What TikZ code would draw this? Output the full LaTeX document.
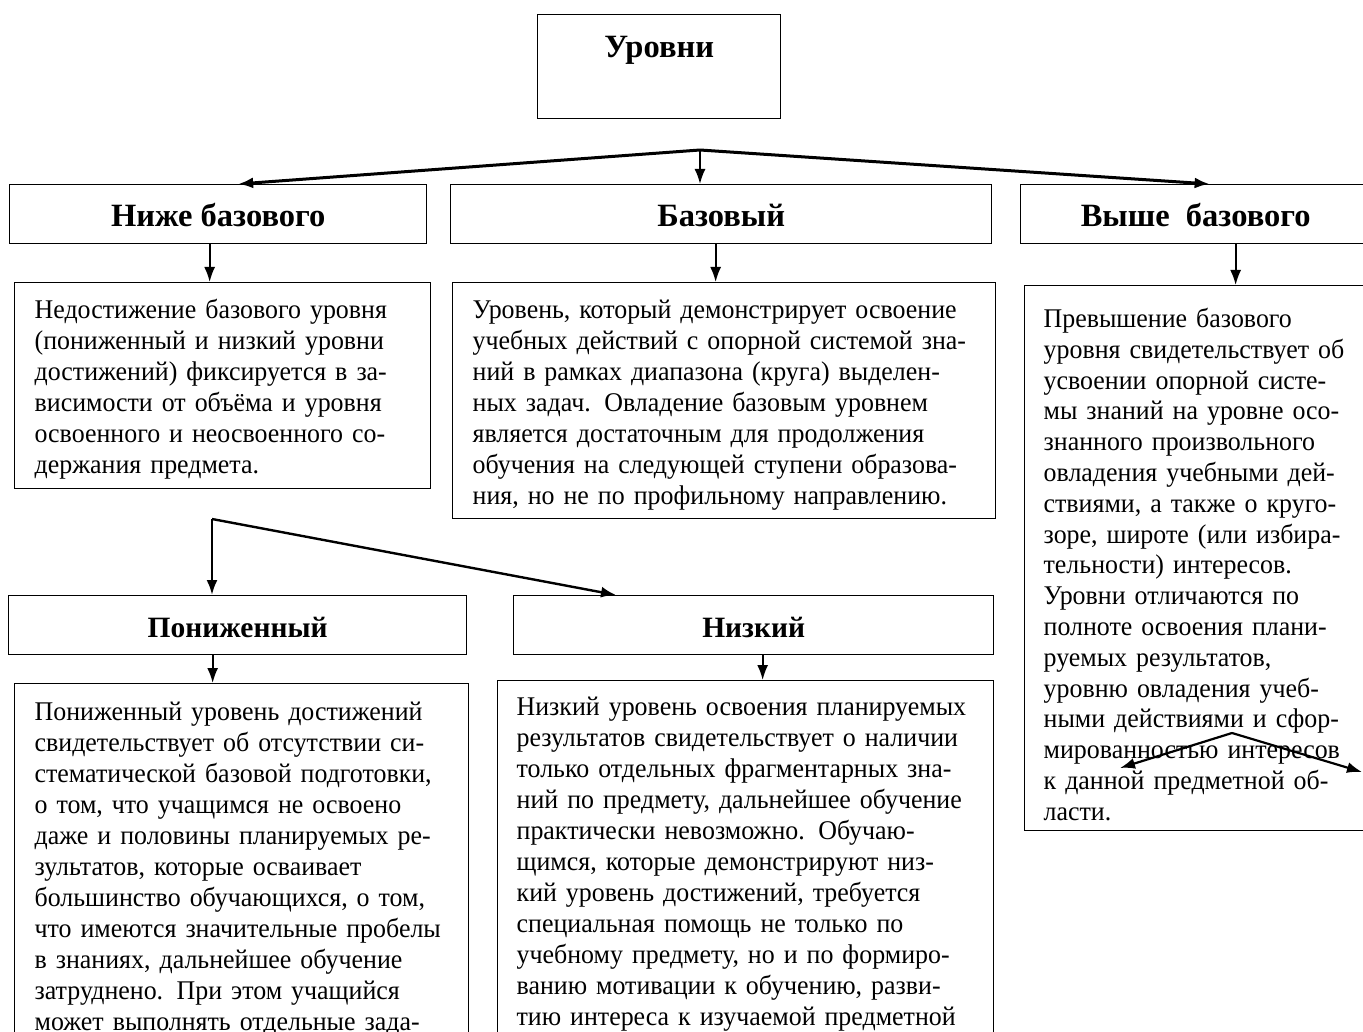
\documentclass[tikz,border=0pt]{standalone}
\usepackage{fontspec}
\setmainfont{Liberation Serif}
\newfontfamily\bodyfont{Liberation Serif}[FakeStretch=0.96]
\usetikzlibrary{arrows.meta}
\tikzset{
  headbox/.style={draw, line width=1.3pt, anchor=north west, inner sep=0pt,
    text height=42pt, text depth=17pt, font=\fontsize{32.5}{38}\selectfont\bfseries},
  lowhead/.style={headbox, font=\fontsize{29.5}{35}\selectfont\bfseries},
  textbox/.style={draw, line width=1.3pt, anchor=north west, align=left,
    inner xsep=20pt, inner ysep=12pt, font=\bodyfont\fontsize{27}{31}\selectfont},
  arr/.style={-{Latex[length=15pt,width=11pt]}, line width=1.8pt},
  bigarr/.style={arr, line width=3pt}
}
\begin{document}
\begin{tikzpicture}[x=1pt, y=-1pt]
  \useasboundingbox (0,0) rectangle (1363,1032);
  \clip (0,0) rectangle (1363,1032);
  % top
  \node[headbox, minimum width=243pt, text height=43pt, text depth=61pt] (levels) at (537,14) {Уровни};
  \coordinate (hub) at (700,150);
  \node[headbox, minimum width=417pt] (nizhe) at (9,184) {Ниже базового};
  \node[headbox, minimum width=541pt] (bazovy) at (450,184) {Базовый};
  \node[headbox, minimum width=350pt] (vyshe) at (1020,184) {Выше\ \ базового};
  \draw[bigarr] (hub) -- ([xshift=20pt]nizhe.north);
  \draw[arr] (hub) -- (hub |- bazovy.north);
  \draw[bigarr] (hub) -- ([xshift=14pt]vyshe.north);
  % descriptions
  \node[textbox, inner ysep=9pt, text width=376pt, minimum height=206pt] (nizhetext) at (14,282)
    {\rule{0pt}{26pt}Недостижение базового уровня\\
     (пониженный и низкий уровни\\
     достижений) фиксируется в за-\\
     висимости от объёма и уровня\\
     освоенного и неосвоенного со-\\
     держания предмета.};
  \node[textbox, inner ysep=8pt, text width=503pt, minimum height=236pt] (baztext) at (452,282)
    {\rule{0pt}{27pt}Уровень, который демонстрирует освоение\\
     учебных действий с опорной системой зна-\\
     ний в рамках диапазона (круга) выделен-\\
     ных задач. Овладение базовым уровнем\\
     является достаточным для продолжения\\
     обучения на следующей ступени образова-\\
     ния, но не по профильному направлению.};
  \node[textbox, inner xsep=19pt, inner ysep=5pt, text width=322pt, minimum height=545pt,
    font=\bodyfont\fontsize{27}{30.8}\selectfont] (vyshetext) at (1024,285)
    {\rule{0pt}{32pt}Превышение базового\\
     уровня свидетельствует об\\
     усвоении опорной систе-\\
     мы знаний на уровне осо-\\
     знанного произвольного\\
     овладения учебными дей-\\
     ствиями, а также о круго-\\
     зоре, широте (или избира-\\
     тельности) интересов.\\
     Уровни отличаются по\\
     полноте освоения плани-\\
     руемых результатов,\\
     уровню овладения учеб-\\
     ными действиями и сфор-\\
     мированностью интересов\\
     к данной предметной об-\\
     ласти.};
  \draw[arr] ([xshift=-8.5pt]nizhe.south) -- ([xshift=-8.5pt]nizhe.south |- nizhetext.north);
  \draw[arr] ([xshift=-5.5pt]bazovy.south) -- ([xshift=-5.5pt]bazovy.south |- baztext.north);
  \draw[arr] ([xshift=40pt]vyshe.south) -- ([xshift=40pt]vyshe.south |- vyshetext.north);
  % stray arrows in the right box
  \coordinate (peak) at (1232,733);
  \coordinate (strayL) at (1120,768);
  \coordinate (strayR) at (1362,772);
  \draw[bigarr, line width=2.2pt] (peak) -- (strayL);
  \draw[bigarr, line width=2.2pt] (peak) -- (strayR);
  % lower branch
  \coordinate (split) at (212,519);
  \node[lowhead, minimum width=458pt] (ponizh) at (8,595) {Пониженный};
  \node[lowhead, minimum width=480pt] (nizkiy) at (513,595) {Низкий};
  \draw[bigarr, line width=2.4pt] (split) -- (split |- ponizh.north);
  \draw[bigarr, line width=2.4pt] (split) -- ([xshift=103pt]nizkiy.north west);
  \node[textbox, inner ysep=18pt, text width=414pt] (ponizhtext) at (14,683)
    {Пониженный уровень достижений\\
     свидетельствует об отсутствии си-\\
     стематической базовой подготовки,\\
     о том, что учащимся не освоено\\
     даже и половины планируемых ре-\\
     зультатов, которые осваивает\\
     большинство обучающихся, о том,\\
     что имеются значительные пробелы\\
     в знаниях, дальнейшее обучение\\
     затруднено. При этом учащийся\\
     может выполнять отдельные зада-};
  \node[textbox, inner xsep=19pt, inner ysep=16pt, text width=458pt] (nizktext) at (497,680)
    {Низкий уровень освоения планируемых\\
     результатов свидетельствует о наличии\\
     только отдельных фрагментарных зна-\\
     ний по предмету, дальнейшее обучение\\
     практически невозможно. Обучаю-\\
     щимся, которые демонстрируют низ-\\
     кий уровень достижений, требуется\\
     специальная помощь не только по\\
     учебному предмету, но и по формиро-\\
     ванию мотивации к обучению, разви-\\
     тию интереса к изучаемой предметной};
  \draw[arr] ([xshift=-25pt]ponizh.south) -- ([xshift=-25pt]ponizh.south |- ponizhtext.north);
  \draw[arr] ([xshift=9pt]nizkiy.south) -- ([xshift=9pt]nizkiy.south |- nizktext.north);
\end{tikzpicture}
\end{document}
